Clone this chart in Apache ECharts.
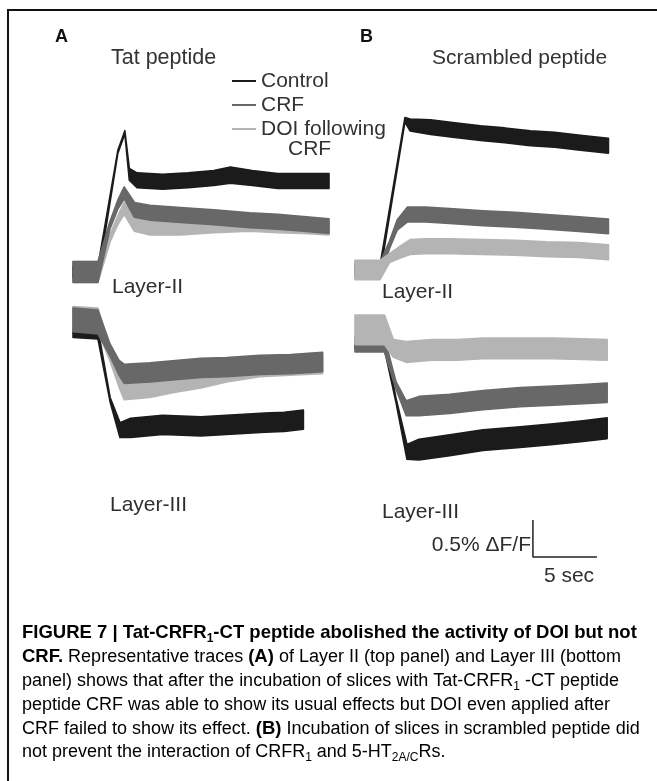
<!DOCTYPE html>
<html>
<head>
<meta charset="utf-8">
<script src="https://cdn.jsdelivr.net/npm/echarts@6/dist/echarts.min.js"></script>
<style>
html,body{margin:0;padding:0;background:#fff;}
#chart{width:657px;height:781px;}
</style>
</head>
<body>
<div id="chart"></div>
<script>
// ---------- DATA (time in s, signal in % dF/F; noise = half band width in %) ----------
// Panel A, Layer II (Tat peptide)
const a2CtlT = [0, 1.95, 3.5, 4.05, 4.4, 5, 7, 9, 11, 12.3, 14, 16, 18, 20];
const a2CtlV = [0, 0, 1.62, 1.89, 1.32, 1.24, 1.22, 1.24, 1.27, 1.31, 1.27, 1.23, 1.23, 1.23];
const a2CtlN = [0.08, 0.08, 0.02, 0.02, 0.08, 0.1, 0.1, 0.1, 0.1, 0.11, 0.1, 0.1, 0.1, 0.1];
const a2CrfT = [0, 1.95, 2.9, 3.5, 4.0, 4.8, 6, 8.4, 11, 13.8, 16, 18, 20];
const a2CrfV = [0, 0, 0.64, 0.91, 1.07, 0.84, 0.80, 0.77, 0.74, 0.70, 0.68, 0.65, 0.62];
const a2CrfN = [0.14, 0.14, 0.05, 0.06, 0.08, 0.1, 0.1, 0.1, 0.1, 0.1, 0.1, 0.1, 0.1];
const a2DoiT = [0, 1.95, 2.9, 3.5, 4.0, 4.8, 6, 8.4, 11, 13.8, 16, 18, 20];
const a2DoiV = [0, 0, 0.46, 0.70, 0.86, 0.64, 0.59, 0.59, 0.62, 0.64, 0.62, 0.61, 0.59];
const a2DoiN = [0.14, 0.14, 0.05, 0.06, 0.08, 0.09, 0.09, 0.09, 0.09, 0.09, 0.09, 0.09, 0.09];
// Panel A, Layer III
const a3CtlT = [0, 1.95, 2.9, 3.67, 4.5, 7, 10, 13, 15, 16.5, 18.0];
const a3CtlV = [-0.14, -0.16, -1.05, -1.46, -1.43, -1.39, -1.41, -1.38, -1.36, -1.35, -1.32];
const a3CtlN = [0.07, 0.07, 0.03, 0.1, 0.13, 0.13, 0.13, 0.13, 0.13, 0.13, 0.13];
const a3CrfT = [0, 1.95, 2.9, 3.6, 4.0, 6, 8, 10, 12, 14.6, 17, 19.5];
const a3CrfV = [0.03, 0, -0.38, -0.62, -0.70, -0.68, -0.65, -0.62, -0.61, -0.58, -0.57, -0.54];
const a3CrfN = [0.16, 0.16, 0.08, 0.1, 0.13, 0.13, 0.13, 0.13, 0.13, 0.13, 0.13, 0.13];
const a3DoiT = [0, 1.95, 2.9, 3.6, 4.0, 6, 8, 10, 12, 14.6, 17, 19.5];
const a3DoiV = [0.05, 0.03, -0.45, -0.78, -0.92, -0.89, -0.82, -0.76, -0.68, -0.61, -0.59, -0.57];
const a3DoiN = [0.16, 0.16, 0.08, 0.1, 0.13, 0.13, 0.13, 0.13, 0.13, 0.13, 0.13, 0.13];
// Panel B, Layer II (Scrambled peptide)
const b2CtlT = [0, 1.95, 3.9, 4.3, 5.9, 7.8, 9.8, 11.7, 13.7, 15.6, 17.6, 19.8];
const b2CtlV = [0, 0, 2.03, 1.96, 1.93, 1.89, 1.85, 1.82, 1.78, 1.76, 1.72, 1.68];
const b2CtlN = [0.06, 0.06, 0.03, 0.08, 0.1, 0.1, 0.1, 0.1, 0.1, 0.1, 0.1, 0.1];
const b2CrfT = [0, 1.95, 2.7, 3.3, 4.1, 5.5, 7.4, 10, 12.5, 15, 17.5, 19.8];
const b2CrfV = [0, 0, 0.34, 0.61, 0.75, 0.75, 0.73, 0.70, 0.68, 0.65, 0.62, 0.59];
const b2CrfN = [0.1, 0.1, 0.05, 0.07, 0.1, 0.1, 0.1, 0.1, 0.1, 0.1, 0.1, 0.1];
const b2DoiT = [0, 1.95, 2.7, 3.5, 4.3, 5.5, 7.4, 10, 12.5, 15, 17.5, 19.8];
const b2DoiV = [0, 0, 0.16, 0.24, 0.31, 0.32, 0.32, 0.31, 0.30, 0.28, 0.27, 0.24];
const b2DoiN = [0.13, 0.13, 0.06, 0.08, 0.1, 0.1, 0.1, 0.1, 0.1, 0.1, 0.1, 0.1];
// Panel B, Layer III
const b3CtlT = [0, 2.3, 3.2, 4.06, 5, 7.4, 10, 12.9, 15.5, 17.8, 19.7];
const b3CtlV = [-0.11, -0.11, -0.88, -1.58, -1.55, -1.49, -1.42, -1.38, -1.34, -1.30, -1.26];
const b3CtlN = [0.08, 0.08, 0.03, 0.1, 0.14, 0.14, 0.14, 0.14, 0.14, 0.14, 0.14];
const b3CrfT = [0, 2.3, 3.2, 4.0, 5, 7.4, 10, 12.9, 15.5, 17.8, 19.7];
const b3CrfV = [-0.13, -0.13, -0.68, -0.99, -0.96, -0.93, -0.88, -0.84, -0.82, -0.80, -0.78];
const b3CrfN = [0.1, 0.1, 0.05, 0.1, 0.13, 0.13, 0.13, 0.13, 0.13, 0.13, 0.13];
const b3DoiT = [0, 2.3, 3.0, 4, 6, 8, 10, 12.9, 15.5, 17.8, 19.7];
const b3DoiV = [0.07, 0.07, -0.18, -0.23, -0.20, -0.20, -0.18, -0.18, -0.18, -0.19, -0.20];
const b3DoiN = [0.2, 0.2, 0.12, 0.14, 0.14, 0.14, 0.14, 0.14, 0.14, 0.14, 0.14];
// Scale bar: 5 s by 0.5 % dF/F
const sbT = [13.9, 13.9, 18.9];
const sbV = [-2.5, -3.0, -3.0];

const seriesNames = ['Control', 'CRF', 'DOI following CRF'];
const panelTitles = ['Tat peptide', 'Scrambled peptide'];
const layerNames = ['Layer-II', 'Layer-III'];

// ---------- STYLE / LAYOUT ----------
const COL = { 'Control': '#1b1b1b', 'CRF': '#686868', 'DOI following CRF': '#b4b4b4' };
const PXS = 12.8;   // px per second
const PXP = 74;     // px per 1 % dF/F
const layout = [
  { x0: 73,  base: 272, ymin: -0.6, ymax: 2.4 },
  { x0: 73,  base: 322, ymin: -2.2, ymax: 0.6 },
  { x0: 355, base: 270, ymin: -0.6, ymax: 2.4 },
  { x0: 355, base: 335, ymin: -3.3, ymax: 0.6 }
];
const grids = [], xAxes = [], yAxes = [];
layout.forEach((L, i) => {
  grids.push({ left: L.x0, top: L.base - L.ymax * PXP, width: 20 * PXS, height: (L.ymax - L.ymin) * PXP });
  xAxes.push({ type: 'value', gridIndex: i, min: 0, max: 20, show: false });
  yAxes.push({ type: 'value', gridIndex: i, min: L.ymin, max: L.ymax, show: false });
});

function band(name, gi, t, v, n) {
  const color = COL[name];
  return {
    type: 'custom', name: name, coordinateSystem: 'cartesian2d',
    xAxisIndex: gi, yAxisIndex: gi,
    itemStyle: { color: color },
    data: t.map((x, i) => [x, v[i], n[i]]),
    renderItem: function (params, api) {
      if (params.dataIndex !== 0) return null;
      const up = [], lo = [];
      for (let i = 0; i < t.length; i++) {
        up.push(api.coord([t[i], v[i] + n[i]]));
        lo.push(api.coord([t[i], v[i] - n[i]]));
      }
      return {
        type: 'polygon',
        shape: { points: up.concat(lo.reverse()) },
        style: { fill: color, stroke: color, lineWidth: 1.6, lineJoin: 'round' }
      };
    },
    silent: true, animation: false
  };
}

const series = [
  // A Layer II: DOI, Control, CRF(top)
  band('DOI following CRF', 0, a2DoiT, a2DoiV, a2DoiN),
  band('Control', 0, a2CtlT, a2CtlV, a2CtlN),
  band('CRF', 0, a2CrfT, a2CrfV, a2CrfN),
  // A Layer III
  band('Control', 1, a3CtlT, a3CtlV, a3CtlN),
  band('DOI following CRF', 1, a3DoiT, a3DoiV, a3DoiN),
  band('CRF', 1, a3CrfT, a3CrfV, a3CrfN),
  // B Layer II
  band('Control', 2, b2CtlT, b2CtlV, b2CtlN),
  band('CRF', 2, b2CrfT, b2CrfV, b2CrfN),
  band('DOI following CRF', 2, b2DoiT, b2DoiV, b2DoiN),
  // B Layer III
  band('Control', 3, b3CtlT, b3CtlV, b3CtlN),
  band('CRF', 3, b3CrfT, b3CrfV, b3CrfN),
  band('DOI following CRF', 3, b3DoiT, b3DoiV, b3DoiN),
  {
    type: 'line', name: 'scalebar', xAxisIndex: 3, yAxisIndex: 3,
    data: sbT.map((x, i) => [x, sbV[i]]), showSymbol: false, symbol: 'none',
    lineStyle: { color: '#222', width: 1.5 }, silent: true, animation: false, clip: false
  }
];

const FONT = '"Liberation Sans", Arial, Helvetica, sans-serif';

const rich = {
  b: { fontFamily: FONT, fontSize: 18.5, fontWeight: 'bold', color: '#1e1e1e', lineHeight: 24 },
  r: { fontFamily: FONT, fontSize: 18, color: '#262626', lineHeight: 24 },
  bs: { fontFamily: FONT, fontSize: 12, fontWeight: 'bold', color: '#1e1e1e', verticalAlign: 'bottom', lineHeight: 19 },
  rs: { fontFamily: FONT, fontSize: 12, color: '#262626', verticalAlign: 'bottom', lineHeight: 19 }
};
const capLines = [
  '{b|FIGURE 7 | Tat-CRFR}{bs|1}{b|-CT peptide abolished the activity of DOI but not}',
  '{b|CRF.}{r| Representative traces }{b|(A)}{r| of Layer II (top panel) and Layer III (bottom}',
  '{r|panel) shows that after the incubation of slices with Tat-CRFR}{rs|1}{r| -CT peptide}',
  '{r|peptide CRF was able to show its usual effects but DOI even applied after}',
  '{r|CRF failed to show its effect. }{b|(B)}{r| Incubation of slices in scrambled peptide did}',
  '{r|not prevent the interaction of CRFR}{rs|1}{r| and 5-HT}{rs|2A/C}{r|Rs.}'
];
const capY = [633, 657, 681, 705, 729, 752];

const graphics = [
  // frame
  { type: 'line', shape: { x1: 8, y1: 10, x2: 8, y2: 781 }, style: { stroke: '#111', lineWidth: 2 } },
  { type: 'line', shape: { x1: 7, y1: 10, x2: 657, y2: 10 }, style: { stroke: '#111', lineWidth: 2 } },
  // panel letters
  { type: 'text', x: 55, y: 37, style: { text: 'A', font: 'bold 18px ' + FONT, fill: '#111', textVerticalAlign: 'middle' } },
  { type: 'text', x: 360, y: 37, style: { text: 'B', font: 'bold 18px ' + FONT, fill: '#111', textVerticalAlign: 'middle' } },
  // panel titles
  { type: 'text', x: 111, y: 58, style: { text: panelTitles[0], font: '21.5px ' + FONT, fill: '#333', textVerticalAlign: 'middle' } },
  { type: 'text', x: 432, y: 58, style: { text: panelTitles[1], font: '21px ' + FONT, fill: '#333', textVerticalAlign: 'middle' } },
  // layer labels
  { type: 'text', x: 112, y: 287, style: { text: layerNames[0], font: '21px ' + FONT, fill: '#2e2e2e', textVerticalAlign: 'middle' } },
  { type: 'text', x: 110, y: 505, style: { text: layerNames[1], font: '21px ' + FONT, fill: '#2e2e2e', textVerticalAlign: 'middle' } },
  { type: 'text', x: 382, y: 292, style: { text: layerNames[0], font: '21px ' + FONT, fill: '#2e2e2e', textVerticalAlign: 'middle' } },
  { type: 'text', x: 382, y: 512, style: { text: layerNames[1], font: '21px ' + FONT, fill: '#2e2e2e', textVerticalAlign: 'middle' } },
  // legend second line
  { type: 'text', x: 288, y: 149, style: { text: 'CRF', font: '21px ' + FONT, fill: '#333', textVerticalAlign: 'middle' } },
  // scale bar labels
  { type: 'text', x: 531, y: 545, style: { text: '0.5% \u0394F/F', font: '21px ' + FONT, fill: '#2e2e2e', textAlign: 'right', textVerticalAlign: 'middle' } },
  { type: 'text', x: 569, y: 576, style: { text: '5 sec', font: '21px ' + FONT, fill: '#2e2e2e', textAlign: 'center', textVerticalAlign: 'middle' } }
];
capLines.forEach((ln, i) => {
  graphics.push({ type: 'text', x: 22, y: capY[i], style: { text: ln, rich: rich, textVerticalAlign: 'middle' } });
});

const chart = echarts.init(document.getElementById('chart'), null, { renderer: 'canvas' });
chart.setOption({
  animation: false,
  backgroundColor: '#ffffff',
  grid: grids, xAxis: xAxes, yAxis: yAxes,
  legend: {
    data: seriesNames, orient: 'vertical', left: 227, top: 64,
    icon: 'rect', itemWidth: 24, itemHeight: 2, itemGap: 0,
    selectedMode: false,
    formatter: function (nm) { return nm === 'DOI following CRF' ? 'DOI following' : nm; },
    textStyle: { fontFamily: FONT, fontSize: 21, color: '#333', lineHeight: 24 }
  },
  series: series,
  graphic: graphics
});
</script>
</body>
</html>
